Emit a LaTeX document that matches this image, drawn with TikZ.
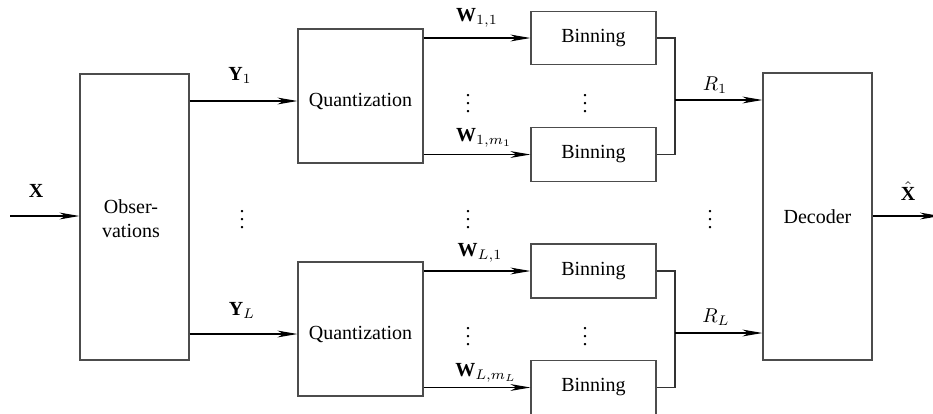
\documentclass[tikz,border=0pt]{standalone}
\usepackage{fontspec}
\setmainfont{Liberation Serif}
\usetikzlibrary{arrows.meta}
\begin{document}
\begin{tikzpicture}[x=0.5pt,y=-0.5pt,
  blk/.style={draw=black!70, line width=0.55pt, inner sep=0pt},
  sig/.style={draw=black, line width=0.55pt,
    -{Stealth[length=10pt,width=3.4pt,inset=3pt]}},
  wire/.style={draw=black!80, line width=0.55pt},
  txt/.style={inner sep=0pt, font=\normalsize},
  lbl/.style={inner sep=0pt}]
\useasboundingbox (0,0) rectangle (933,413);
\clip (0,0) rectangle (933,413);

% blocks
\node[blk, minimum width=54.5pt, minimum height=143pt] (obs) at (134.5,217) {};
\node[txt, align=center] (obstxt) at (131,219) {Obser-\\vations};
\node[blk, minimum width=62.5pt, minimum height=67pt] (q1) at (360.5,96) {};
\node[txt] (q1txt) at (360.5,101) {Quantization};
\node[blk, minimum width=62.5pt, minimum height=67pt] (q2) at (360.5,329) {};
\node[txt] (q2txt) at (360.5,334) {Quantization};
\node[blk, minimum width=62.5pt, minimum height=26.5pt] (b11) at (593.5,38) {Binning};
\node[blk, minimum width=62.5pt, minimum height=27pt] (b1m) at (593.5,154.5) {Binning};
\node[blk, minimum width=62.5pt, minimum height=27pt] (bL1) at (593.5,271) {Binning};
\node[blk, minimum width=62.5pt, minimum height=27pt] (bLm) at (593.5,387.5) {Binning};
\node[blk, minimum width=54.5pt, minimum height=143.5pt] (dec) at (817.5,216.5) {Decoder};

% input and observation outputs
\coordinate (xin) at (10,216);
\draw[sig] (xin) -- (xin -| obs.west);
\draw[sig] (obs.east |- q1txt) -- (q1.west |- q1txt);
\draw[sig] (obs.east |- q2txt) -- (q2.west |- q2txt);

% quantizer outputs
\draw[sig] (q1.east |- b11) -- (b11.west);
\draw[sig] (q1.east |- b1m) -- (b1m.west);
\draw[sig] (q2.east |- bL1) -- (bL1.west);
\draw[sig] (q2.east |- bLm) -- (bLm.west);

% binning outputs merged into the rates
\coordinate (m1) at (675,100);
\coordinate (mL) at (675,333);
\draw[wire] (b11.east) -| (m1) |- (b1m.east);
\draw[wire] (bL1.east) -| (mL) |- (bLm.east);
\draw[sig] (m1) -- (m1 -| dec.west);
\draw[sig] (mL) -- (mL -| dec.west);

% decoder output
\coordinate (xout) at (940,216);
\draw[sig] (dec.east |- xout) -- (xout);

% labels
\node[lbl] (lx) at (36,191) {$\mathbf{X}$};
\node[lbl] (ly1) at (240,75) {$\mathbf{Y}_1$};
\node[lbl] (lyL) at (242,310) {$\mathbf{Y}_L$};
\node[lbl] (lw11) at (477,18) {$\mathbf{W}_{1,1}$};
\node[lbl] (lw1m) at (484,138) {$\mathbf{W}_{1,m_1}$};
\node[lbl] (lwL1) at (480,253) {$\mathbf{W}_{L,1}$};
\node[lbl] (lwLm) at (486,373) {$\mathbf{W}_{L,m_L}$};
\node[lbl] (lr1) at (715,85) {$R_1$};
\node[lbl] (lrL) at (716,317) {$R_L$};
\node[lbl] (lxh) at (908,191) {$\hat{\mathbf{X}}$};

% ellipses
\node[lbl] (d1) at (468,98) {$\vdots$};
\node[lbl] (d2) at (585,98) {$\vdots$};
\node[lbl] (d3) at (468,331) {$\vdots$};
\node[lbl] (d4) at (585,331) {$\vdots$};
\node[lbl] (d5) at (242,214) {$\vdots$};
\node[lbl] (d6) at (468,214) {$\vdots$};
\node[lbl] (d7) at (710,214) {$\vdots$};
\end{tikzpicture}
\end{document}
